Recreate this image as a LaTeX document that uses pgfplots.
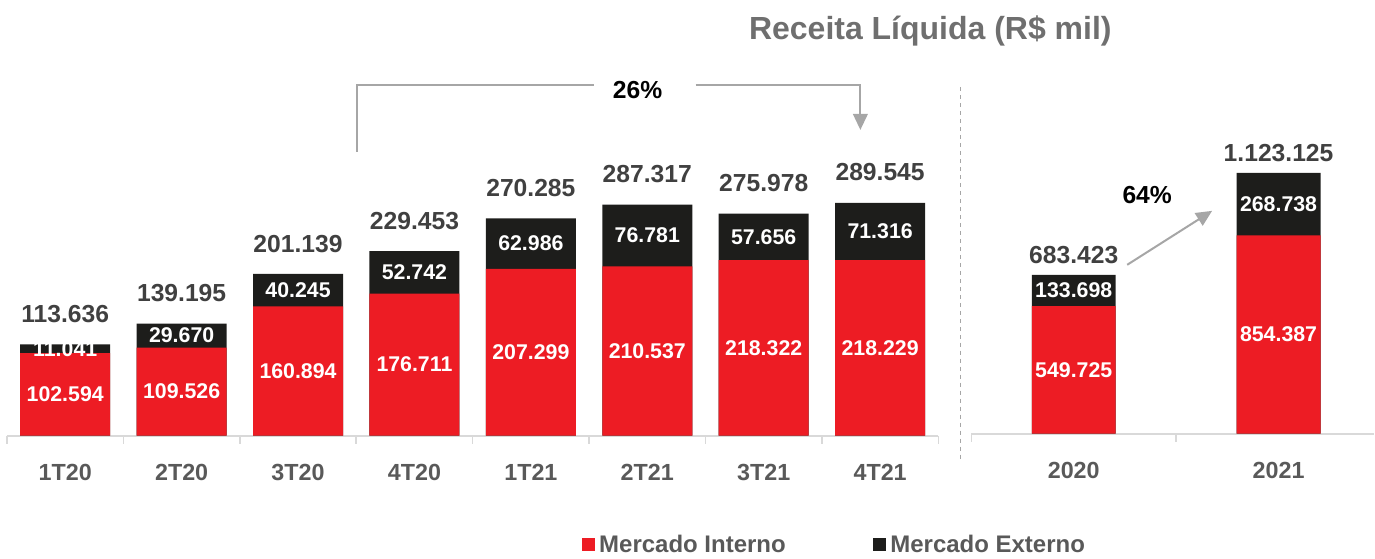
\documentclass[border=0pt]{standalone}
\usepackage{fontspec}
\setmainfont{Liberation Sans}
\usepackage{pgfplots}
\usepackage{pgfplotstable}
\pgfplotsset{compat=1.18}
\usetikzlibrary{arrows.meta}
\definecolor{mired}{HTML}{ED1C24}
\definecolor{miblack}{HTML}{1D1D1B}
\definecolor{labgray}{HTML}{404040}
\definecolor{tickgray}{HTML}{595959}
\definecolor{titlegray}{HTML}{6F6F6F}
\definecolor{axgray}{HTML}{D9D9D9}
\definecolor{arrgray}{HTML}{A6A6A6}
\newcommand\fIn{\fontsize{16}{19}\selectfont\bfseries}
\newcommand\fTot{\fontsize{18.5}{22}\selectfont\bfseries}

\pgfplotstableread{
x int ext tot lint lext ltot
0 102.594 11.041 113.636 102.594 11.041 113.636
1 109.526 29.670 139.195 109.526 29.670 139.195
2 160.894 40.245 201.139 160.894 40.245 201.139
3 176.711 52.742 229.453 176.711 52.742 229.453
4 207.299 62.986 270.285 207.299 62.986 270.285
5 210.537 76.781 287.317 210.537 76.781 287.317
6 218.322 57.656 275.978 218.322 57.656 275.978
7 218.229 71.316 289.545 218.229 71.316 289.545
}\quarters
\pgfplotstableread{
x int ext tot lint lext ltot
0 549.725 133.698 683.423 549.725 133.698 683.423
1 854.387 268.738 1123.125 854.387 268.738 1.123.125
}\years

\pgfplotsset{
  mybase/.style={
    scale only axis, clip=false, enlargelimits=false, ymin=0,
    axis x line=bottom, axis y line=none,
    x axis line style={draw=axgray, line width=1.5pt, -},
    xtick style={draw=axgray, line width=1.2pt},
    major tick length=6pt, tick align=outside,
    xticklabels={},
    extra x tick style={tick style={draw=none}, major tick length=0pt,
      xticklabel style={font=\fontsize{17.5}{20}\selectfont\bfseries, text=tickgray, anchor=center, yshift=-27.75pt}},
  },
  sqlegend/.style={legend image code/.code={\fill[##1] (0pt,-4.75pt) rectangle (9.5pt,4.75pt);}},
  inlab/.style={ybar, bar shift=0pt, draw=none, fill=none, forget plot,
    nodes near coords, point meta=explicit symbolic, nodes near coords align=center,
    every node near coord/.append style={font=\fIn, text=white, inner sep=0pt, anchor=center}},
  totlab/.style={ybar, bar shift=0pt, draw=none, fill=none, forget plot,
    nodes near coords, point meta=explicit symbolic, nodes near coords align=south,
    every node near coord/.append style={font=\fTot, text=labgray, inner sep=0pt, anchor=south, yshift=#1}},
}

\begin{document}
\begin{tikzpicture}
% left axis: quarters
\begin{axis}[mybase,
  at={(5.25pt,90pt)}, anchor=south west,
  width=699pt, height=241.5pt,
  xmin=-0.5, xmax=7.5, ymax=400,
  xtick={-0.5,0.5,...,7.5},
  extra x ticks={0,...,7},
  extra x tick labels={1T20,2T20,3T20,4T20,1T21,2T21,3T21,4T21},
  reverse legend,
  legend columns=2,
  legend style={at={(0.617,-0.3385)}, anchor=west, draw=none, fill=none,
    font=\fontsize{18}{21}\selectfont\bfseries, text=tickgray, inner sep=0pt,
    nodes={inner sep=3.5pt},
    /tikz/every even column/.append style={column sep=62pt}},
]
\addplot[ybar, bar width=67.5pt, bar shift=0pt, fill=miblack, draw=none, sqlegend] table[x=x, y=tot]{\quarters};
\addlegendentry{Mercado Externo}
\addplot[ybar, bar width=67.5pt, bar shift=0pt, fill=mired, draw=none, sqlegend] table[x=x, y=int]{\quarters};
\addlegendentry{Mercado Interno}
\addplot[inlab, bar width=67.5pt] table[x=x, y expr=\thisrow{int}/2, meta=lint]{\quarters};
\addplot[inlab, bar width=67.5pt] table[x=x, y expr=\thisrow{int}+\thisrow{ext}/2, meta=lext]{\quarters};
\addplot[totlab=16pt, bar width=67.5pt] table[x=x, y=tot, meta=ltot]{\quarters};
\end{axis}

% right axis: years
\begin{axis}[mybase,
  at={(729pt,91.5pt)}, anchor=south west,
  width=302.25pt, height=244pt,
  xmin=-0.5, xmax=1.466, ymax=1400,
  xtick={-0.5,0.5},
  extra x ticks={0,1},
  extra x tick labels={2020,2021},
]
\addplot[ybar, bar width=63pt, bar shift=0pt, fill=miblack, draw=none] table[x=x, y=tot]{\years};
\addplot[ybar, bar width=63pt, bar shift=0pt, fill=mired, draw=none] table[x=x, y=int]{\years};
\addplot[inlab, bar width=63pt] table[x=x, y expr=\thisrow{int}/2, meta=lint]{\years};
\addplot[inlab, bar width=63pt] table[x=x, y expr=\thisrow{int}+\thisrow{ext}/2, meta=lext]{\years};
\addplot[totlab=8pt, bar width=63pt] table[x=x, y=tot, meta=ltot]{\years};
\end{axis}

% annotations in pixel units (y downwards)
\begin{scope}[x=0.75pt, y=-0.75pt, shift={(0pt,417pt)}]
\path[use as bounding box] (0,0) rectangle (1375,556);
\node[font=\fontsize{24}{28}\selectfont\bfseries, text=titlegray] at (931,31) {Receita Líquida (R\$ mil)};
\draw[arrgray, line width=1.5pt] (357,152) -- (357,85) -- (594,85);
\draw[arrgray, line width=1.5pt, -{Triangle[length=12pt,width=11pt]}] (696,85) -- (861,85) -- (861,130);
\node[font=\fTot] at (638,90) {26\%};
\draw[arrgray, dash pattern=on 3pt off 3pt, line width=0.9pt] (961,87) -- (961,460);
\draw[arrgray, line width=1.5pt, -{Triangle[length=12pt,width=11pt]}] (1128,265) -- (1213,211);
\node[font=\fTot] at (1148,195) {64\%};
\end{scope}
\end{tikzpicture}
\end{document}
